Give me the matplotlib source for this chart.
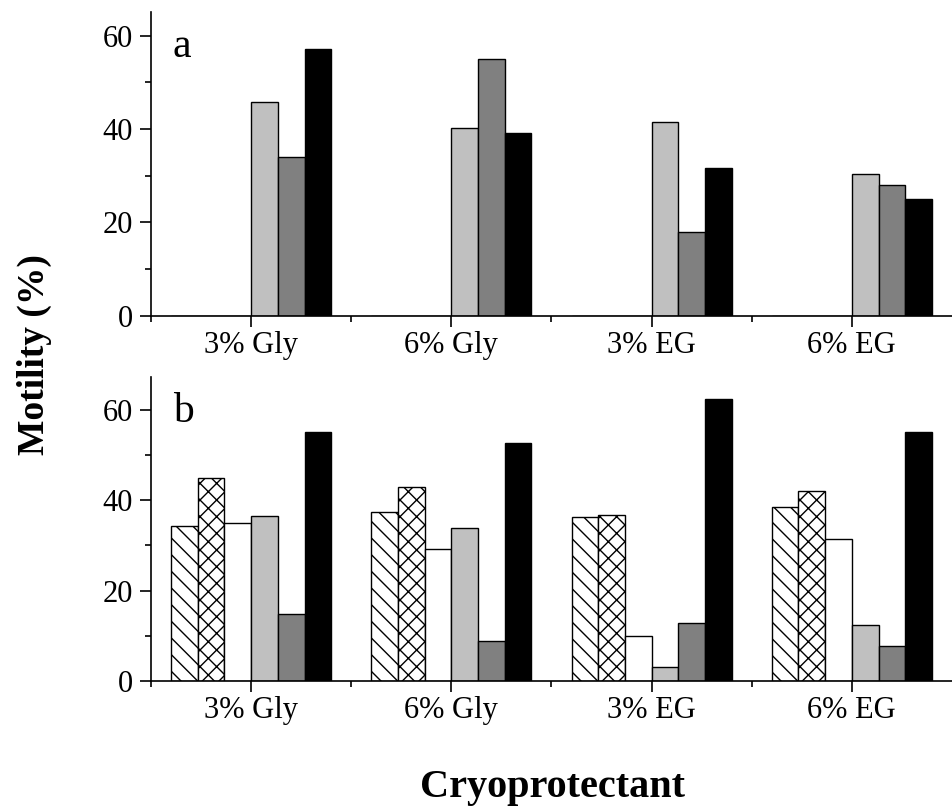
import numpy as np
import matplotlib
matplotlib.use("Agg")
import matplotlib.pyplot as plt

plt.rcParams['font.family'] = ['Liberation Serif', 'DejaVu Serif']
plt.rcParams['hatch.linewidth'] = 1.0

groups = ["3% Gly", "6% Gly", "3% EG", "6% EG"]

# panel a: only the last three series have values
a_series = [
    [0, 0, 0, 0],
    [0, 0, 0, 0],
    [0, 0, 0, 0],
    [45.8, 40.3, 41.4, 30.4],
    [34.1, 54.9, 18.0, 28.1],
    [57.1, 39.1, 31.7, 25.1],
]

# panel b
b_series = [
    [34.2, 37.3, 36.4, 38.5],
    [44.9, 43.0, 36.8, 42.1],
    [34.9, 29.3, 10.0, 31.4],
    [36.5, 33.8, 3.0, 12.5],
    [14.8, 8.9, 12.8, 7.7],
    [55.2, 52.7, 62.4, 55.2],
]

colors = ['white', 'white', 'white', '#c0c0c0', '#808080', 'black']
hatches = ['\\\\', 'xx', None, None, None, None]

fig = plt.figure(figsize=(9.52, 8.10), dpi=100)
ax_a = fig.add_axes([0.1586, 0.6099, 0.8414, 0.3751])
ax_b = fig.add_axes([0.1586, 0.1593, 0.8414, 0.3753])

x = np.arange(len(groups))
w = 0.8 / 6


def draw(ax, series, ymax, letter):
    for i, vals in enumerate(series):
        ax.bar(x - 0.4 + w * i, vals, width=w, align='edge',
               color=colors[i], edgecolor='black', linewidth=1.0,
               hatch=hatches[i])
    ax.set_xlim(-0.5, 3.5)
    ax.set_ylim(0, ymax)
    ax.set_xticks(x)
    ax.set_xticklabels(groups)
    ax.set_xticks([-0.5, 0.5, 1.5, 2.5], minor=True)
    ax.set_yticks([0, 20, 40, 60])
    ax.set_yticks([10, 30, 50], minor=True)
    ax.spines['top'].set_visible(False)
    ax.spines['right'].set_visible(False)
    ax.spines['left'].set_linewidth(1.2)
    ax.spines['bottom'].set_linewidth(1.2)
    ax.tick_params(axis='x', which='major', pad=3)
    ax.tick_params(axis='y', which='major', pad=5)
    ax.tick_params(axis='both', which='major', direction='out', length=8,
                   width=1.2, labelsize=22)
    ax.tick_params(axis='both', which='minor', direction='out', length=4.5,
                   width=1.2)
    ax.text(0.027, 0.95, letter, transform=ax.transAxes, fontsize=30,
            ha='left', va='top')


draw(ax_a, a_series, 65, 'a')
draw(ax_b, b_series, 67.3, 'b')

fig.text(34 / 952, 1 - 355 / 810, 'Motility (%)', rotation=90, fontsize=27,
         fontweight='bold', ha='center', va='center')
fig.text(552 / 952, 1 - 797 / 810, 'Cryoprotectant', fontsize=29,
         fontweight='bold', ha='center', va='baseline')

fig.savefig('out.png', dpi=100)
